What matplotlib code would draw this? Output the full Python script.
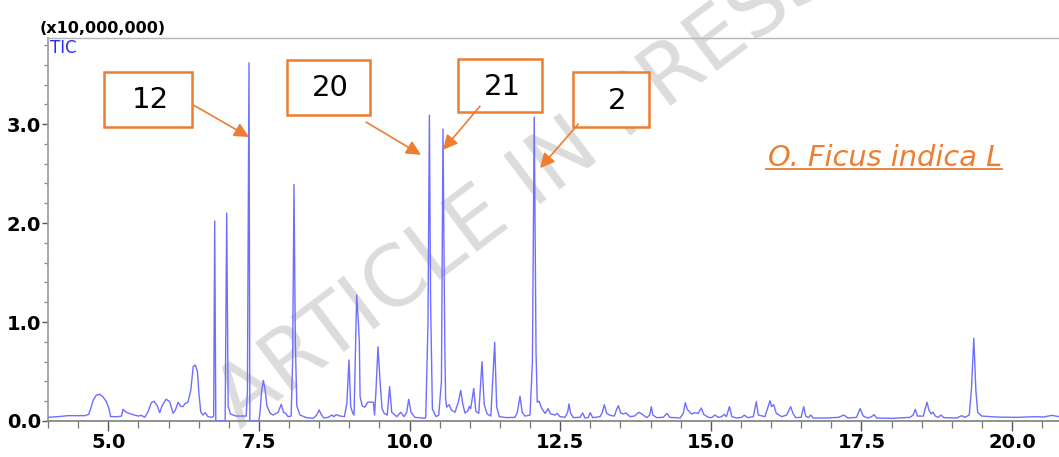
import matplotlib
matplotlib.use("Agg")
import matplotlib.pyplot as plt
from matplotlib.patches import Rectangle, FancyArrowPatch
from matplotlib.ticker import MultipleLocator

# TIC trace: retention time (min), intensity (x10,000,000)
rt = [4.00, 4.17, 4.33, 4.61, 4.675, 4.71, 4.75, 4.80, 4.86, 4.91, 4.97, 5.01, 5.04, 5.16, 5.22,
      5.245, 5.30, 5.38, 5.45, 5.505, 5.55, 5.605, 5.66, 5.715, 5.76, 5.815, 5.855, 5.89, 5.96,
      6.02, 6.075, 6.11, 6.16, 6.20, 6.24, 6.28, 6.32, 6.37, 6.41, 6.445, 6.48, 6.505, 6.535,
      6.57, 6.61, 6.655, 6.72, 6.75, 6.767, 6.785, 6.94, 6.966, 6.99, 7.03, 7.12, 7.29, 7.31,
      7.336, 7.35, 7.50, 7.52, 7.545, 7.574, 7.60, 7.635, 7.685, 7.735, 7.82, 7.87, 7.91, 7.945,
      7.985, 8.035, 8.06, 8.083, 8.105, 8.13, 8.183,
      8.29, 8.40, 8.46, 8.50, 8.54, 8.58, 8.65, 8.71, 8.745, 8.78, 8.85, 8.92, 8.96, 8.996,
      9.024, 9.057, 9.08, 9.123, 9.15, 9.167, 9.18, 9.217, 9.26, 9.306, 9.40, 9.42, 9.444, 9.477,
      9.51, 9.544, 9.58, 9.63, 9.67, 9.705, 9.79, 9.854, 9.91, 9.953, 9.987, 10.025, 10.09,
      10.257, 10.27, 10.307, 10.33, 10.35, 10.38, 10.44, 10.485, 10.53, 10.556, 10.585, 10.60,
      10.617, 10.656, 10.70, 10.755, 10.81, 10.85, 10.883, 10.92, 10.966, 10.993, 11.016, 11.066,
      11.10, 11.15, 11.203, 11.24, 11.29, 11.35, 11.414, 11.447, 11.49, 11.613, 11.75, 11.79,
      11.834, 11.87, 11.917, 12.00, 12.04, 12.07, 12.10, 12.12, 12.15, 12.194, 12.25, 12.30,
      12.343, 12.415, 12.45, 12.487,
      12.50, 12.58, 12.625, 12.647, 12.675, 12.72, 12.83, 12.875, 12.913, 12.97, 13.00, 13.04,
      13.162, 13.20, 13.233, 13.273, 13.33, 13.40, 13.433, 13.466, 13.505, 13.55, 13.593, 13.66,
      13.73, 13.81, 13.864, 13.937, 13.987, 14.013, 14.04, 14.10, 14.21, 14.274, 14.32, 14.49,
      14.544, 14.578, 14.61, 14.644, 14.68, 14.74, 14.79, 14.843, 14.883, 14.96, 15.013, 15.07,
      15.125, 15.18, 15.225, 15.26, 15.31, 15.35, 15.43, 15.513, 15.557, 15.613, 15.706, 15.756,
      15.79, 15.90, 15.983, 16.01, 16.044, 16.088, 16.177, 16.26, 16.326, 16.365, 16.41, 16.50,
      16.543, 16.576, 16.62, 16.66, 16.70,
      16.925, 17.12, 17.21, 17.28, 17.42, 17.48, 17.53, 17.61, 17.67, 17.71, 17.754, 18.03,
      18.307, 18.36, 18.395, 18.43, 18.53, 18.56, 18.59, 18.62, 18.66, 18.69, 18.727, 18.777,
      18.82, 18.87, 19.08, 19.166, 19.22, 19.29, 19.326, 19.366, 19.40, 19.43, 19.497, 19.746,
      20.078, 20.41, 20.52, 20.66, 20.78]
tic = [0.037, 0.044, 0.054, 0.054, 0.067, 0.128, 0.21, 0.26, 0.27, 0.245, 0.195, 0.128, 0.044, 0.044, 0.05,
       0.118, 0.088, 0.07, 0.057, 0.05, 0.057, 0.037, 0.094, 0.185, 0.20, 0.15, 0.084, 0.15, 0.22,
       0.195, 0.078, 0.104, 0.19, 0.15, 0.145, 0.18, 0.185, 0.31, 0.55, 0.566, 0.50, 0.28, 0.094,
       0.06, 0.084, 0.044, 0.037, 0.05, 2.02, 0.0, 0.0, 2.10, 0.15, 0.07, 0.05, 0.05, 0.3,
       3.62, 0.0, 0.0, 0.1, 0.3, 0.41, 0.33, 0.15, 0.08, 0.06, 0.088, 0.168, 0.088, 0.077,
       0.044, 0.05, 0.6, 2.39, 0.8, 0.15, 0.06,
       0.034, 0.027, 0.06, 0.111, 0.06, 0.03, 0.037, 0.06, 0.044, 0.064, 0.05, 0.044, 0.18, 0.616,
       0.145, 0.081, 0.06, 1.273, 1.02, 0.80, 0.245, 0.15, 0.14, 0.19, 0.19, 0.06, 0.313, 0.75,
       0.414, 0.128, 0.077, 0.06, 0.347, 0.088, 0.044, 0.088, 0.044, 0.088, 0.219, 0.088, 0.037,
       0.027, 0.04, 1.0, 3.09, 1.2, 0.12, 0.044, 0.06, 0.4, 2.95, 0.8, 0.22,
       0.14, 0.165, 0.108, 0.088, 0.19, 0.31, 0.175, 0.081, 0.10, 0.148, 0.125, 0.33,
       0.10, 0.077, 0.60, 0.165, 0.071, 0.05, 0.795, 0.14, 0.044, 0.034, 0.037, 0.088,
       0.25, 0.088, 0.05, 0.06, 0.6, 3.07, 0.7, 0.19, 0.2, 0.128, 0.077, 0.125,
       0.071, 0.06, 0.077, 0.05,
       0.044, 0.037, 0.088, 0.172, 0.077, 0.034, 0.037, 0.081, 0.03, 0.037, 0.084, 0.034,
       0.044, 0.088, 0.165, 0.077, 0.057, 0.05, 0.111, 0.155, 0.081, 0.071, 0.081, 0.044,
       0.05, 0.088, 0.067, 0.034, 0.06, 0.145, 0.06, 0.034, 0.037, 0.077, 0.037, 0.03,
       0.077, 0.185, 0.118, 0.095, 0.071, 0.084, 0.077, 0.131, 0.067, 0.037, 0.034, 0.06,
       0.037, 0.044, 0.067, 0.044, 0.145, 0.044, 0.03, 0.037, 0.06, 0.034, 0.044, 0.195,
       0.06, 0.044, 0.205, 0.145, 0.165, 0.077, 0.044, 0.06, 0.145, 0.077, 0.034, 0.037,
       0.145, 0.05, 0.034, 0.06, 0.03,
       0.03, 0.037, 0.06, 0.03, 0.037, 0.125, 0.05, 0.03, 0.044, 0.064, 0.03, 0.027,
       0.037, 0.06, 0.118, 0.05, 0.05, 0.128, 0.19, 0.111, 0.071, 0.088, 0.05, 0.037,
       0.06, 0.034, 0.03, 0.054, 0.037, 0.06, 0.313, 0.835, 0.313, 0.088, 0.05, 0.04,
       0.037, 0.044, 0.04, 0.057, 0.044]

# peak labels: box corners, label centre, arrow tail -> arrow head (data units)
peak_ids = ["12", "20", "21", "2"]
box_x0 = [4.93, 7.97, 10.81, 12.71]
box_x1 = [6.39, 9.34, 12.20, 13.98]
box_y0 = [2.97, 3.09, 3.12, 2.97]
box_y1 = [3.525, 3.646, 3.657, 3.525]
label_x = [5.70, 8.68, 11.54, 13.44]
label_y = [3.24, 3.36, 3.37, 3.23]
tail_x = [6.42, 9.28, 11.17, 12.80]
tail_y = [3.19, 3.02, 3.18, 3.00]
head_x = [7.336, 10.19, 10.556, 12.166]
head_y = [2.87, 2.69, 2.74, 2.556]

xticks = [5.0, 7.5, 10.0, 12.5, 15.0, 17.5, 20.0]
yticks = [0.0, 1.0, 2.0, 3.0]

ORANGE = "#ED7D31"

fig = plt.figure(figsize=(10.59, 4.57), dpi=100)
ax = fig.add_axes([48 / 1059, 36 / 457, 1 - 48 / 1059, 383 / 457])
ax.set_xlim(4.0, 20.78)
ax.set_ylim(0, 3.87)

ax.plot(rt, tic, color="#6e6eff", lw=1.0, zorder=3, solid_joinstyle="round")

# watermark
ax.text(0.19, -0.025, "ARTICLE IN PRESS", transform=ax.transAxes, fontsize=60,
        color="#dcdcdc", rotation=37, rotation_mode="anchor", ha="left", va="baseline",
        zorder=1)

for i, pid in enumerate(peak_ids):
    ax.add_patch(Rectangle((box_x0[i], box_y0[i]), box_x1[i] - box_x0[i], box_y1[i] - box_y0[i],
                           facecolor="white", edgecolor=ORANGE, lw=1.8, zorder=5))
    ax.text(label_x[i], label_y[i], pid, fontsize=21, ha="center", va="center", zorder=6)
    ax.add_patch(FancyArrowPatch((tail_x[i], tail_y[i]), (head_x[i], head_y[i]),
                                 arrowstyle="-|>", mutation_scale=22, color=ORANGE,
                                 lw=1.2, shrinkA=0, shrinkB=0, zorder=6))

name = ax.text(15.95, 2.576, "O. Ficus indica L", fontsize=20.8, style="italic",
               color=ORANGE, ha="left", va="baseline", zorder=6)
fig.canvas.draw()
bb = name.get_window_extent().transformed(ax.transData.inverted())
ax.plot([bb.x0 - 0.03, bb.x1], [2.55, 2.55], color=ORANGE, lw=1.3, zorder=6)

ax.set_xticks(xticks)
ax.set_xticklabels([f"{v:.1f}" for v in xticks], fontweight="bold")
ax.set_yticks(yticks)
ax.set_yticklabels([f"{v:.1f}" for v in yticks], fontweight="bold")
ax.xaxis.set_minor_locator(MultipleLocator(0.5))
ax.yaxis.set_minor_locator(MultipleLocator(0.2))
ax.tick_params(axis="x", which="major", length=7, width=1, color="#555555", pad=2, labelsize=14)
ax.tick_params(axis="x", which="minor", length=5, width=0.9, color="#777777")
ax.tick_params(axis="y", which="major", length=4, width=1, color="#555555", pad=1, labelsize=14)
ax.tick_params(axis="y", which="minor", length=3, width=0.9, color="#888888")

ax.spines["right"].set_visible(False)
ax.spines["left"].set_color("#a0a0a0")
ax.spines["left"].set_linewidth(1.3)
ax.spines["bottom"].set_color("#888888")
ax.spines["bottom"].set_linewidth(1.3)
ax.spines["top"].set_color("#b5b5b5")
ax.spines["top"].set_linewidth(1.0)

fig.text(40 / 1059, 1 - 33 / 457, "(x10,000,000)", fontsize=11.5, fontweight="bold",
         ha="left", va="baseline")
fig.text(50 / 1059, 1 - 53 / 457, "TIC", fontsize=12, color="#2a2aff", ha="left", va="baseline")

fig.savefig("out.png", dpi=100)
